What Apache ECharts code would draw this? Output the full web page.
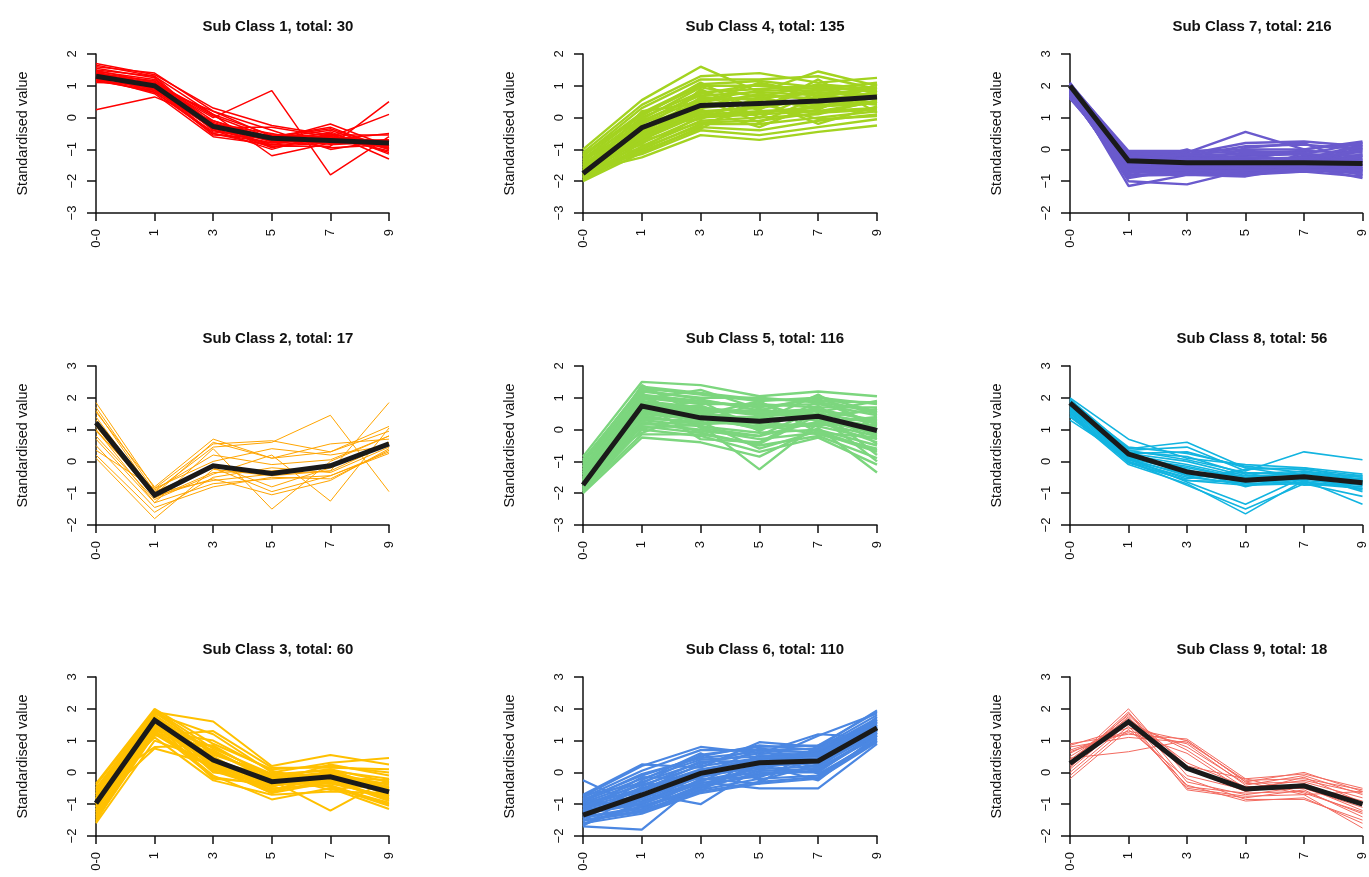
<!DOCTYPE html>
<html>
<head>
<meta charset="utf-8">
<script src="https://cdn.jsdelivr.net/npm/echarts@6/dist/echarts.min.js"></script>
<style>
html,body{margin:0;padding:0;background:#fff;}
#chart{width:1369px;height:877px;}
</style>
</head>
<body>
<div id="chart"></div>
<script>
const categories = ['0-0', '1', '3', '5', '7', '9'];
const classTotals = [30, 17, 60, 135, 116, 110, 216, 56, 18];
const classColors = ['#FF0000', '#FFA500', '#FFC000', '#A3D320', '#7CD67E', '#4B87E2', '#6A5ACD', '#12B4E0', '#F36A5F'];
const yMins = [-3, -2, -2, -3, -3, -2, -2, -2, -2];
const yMaxs = [2, 3, 3, 2, 2, 3, 3, 3, 3];

const class1Lines = [
  [1.70, 1.35, 0.30, -0.25, -0.55, -0.55],
  [1.60, 1.40, 0.20, -0.60, -0.30, -1.00],
  [1.50, 1.30, -0.30, -0.30, -0.60, 0.10],
  [1.45, 1.20, -0.20, -0.90, -0.90, 0.50],
  [1.40, 1.15, -0.10, -0.70, -0.20, -0.90],
  [1.35, 1.10, 0.10, -1.20, -0.80, -0.70],
  [1.30, 1.05, -0.40, -1.00, -0.50, -1.30],
  [1.25, 0.95, -0.50, -0.80, -0.70, -0.80],
  [1.20, 0.90, -0.55, -0.65, -0.40, -1.00],
  [1.15, 0.85, -0.30, -0.75, -0.75, -0.85],
  [1.10, 1.05, 0.00, 0.85, -1.80, -0.60],
  [1.35, 0.80, -0.45, -0.55, -0.65, -0.90],
  [1.25, 0.75, -0.60, -0.85, -0.55, -1.10],
  [1.40, 1.00, -0.20, -0.50, -0.85, -0.75],
  [1.55, 1.25, -0.35, -0.60, -0.35, -0.95],
  [1.30, 0.95, 0.20, -0.40, -1.00, -0.70],
  [1.20, 1.10, -0.25, -0.95, -0.60, -1.05],
  [1.45, 0.90, -0.15, -0.70, -0.70, -0.50],
  [0.25, 0.65, -0.10, -0.65, -0.95, -0.85],
  [1.35, 1.15, -0.40, -0.80, -0.45, -1.15],
  [1.65, 1.30, 0.10, -0.55, -0.60, -0.75],
  [1.28, 1.00, -0.20, -0.75, -0.65, -0.95],
  [1.18, 0.80, -0.50, -0.90, -0.80, -0.85],
  [1.48, 1.10, 0.05, -0.65, -0.50, -1.00],
  [1.38, 0.85, -0.35, -0.85, -0.75, -0.70]
];
const class1Mean = [1.30, 1.00, -0.28, -0.65, -0.72, -0.80];

const class2Lines = [
  [1.85, -0.85, 0.55, 0.65, 0.30, 0.95],
  [1.70, -0.95, 0.45, 0.60, 1.45, -0.95],
  [1.60, -1.05, 0.60, 0.10, 0.30, 1.10],
  [1.00, -1.30, 0.40, -1.50, 0.00, 0.80],
  [0.80, -1.20, -0.40, 0.20, -1.25, 1.05],
  [1.40, -1.10, -0.55, -1.05, -0.60, 0.40],
  [1.30, -0.95, -0.20, -0.95, -0.45, 0.30],
  [1.20, -1.00, -0.60, -0.40, -0.30, 0.55],
  [1.10, -1.15, -0.35, -0.30, -0.15, 0.60],
  [0.95, -0.90, 0.20, -0.10, 0.05, 0.80],
  [0.70, -1.30, -0.70, -0.55, -0.45, 0.25],
  [0.50, -1.45, -0.80, -0.50, -0.55, 0.35],
  [0.35, -0.85, 0.00, 0.40, 0.20, 0.50],
  [0.20, -1.60, -0.50, -0.20, -0.35, 0.45],
  [0.10, -1.80, -0.25, -0.45, -0.30, 1.85],
  [1.55, -0.80, 0.70, 0.10, 0.55, 0.70],
  [1.00, -1.05, -0.10, -0.80, -0.20, 0.60]
];
const class2Mean = [1.22, -1.06, -0.14, -0.38, -0.14, 0.55];

const class3Lines = [
  [-0.35, 2.00, 0.90, 0.10, 0.20, 0.00],
  [-0.50, 1.90, 1.60, 0.20, 0.55, 0.25],
  [-0.60, 1.85, 1.20, 0.00, 0.30, 0.45],
  [-0.70, 1.80, 0.60, -0.10, 0.10, -0.30],
  [-0.80, 1.75, 0.40, -0.30, -0.10, -0.50],
  [-0.85, 1.70, 0.20, -0.40, -0.30, -0.80],
  [-0.90, 1.65, 0.00, -0.20, -0.20, -0.60],
  [-1.00, 1.60, 0.50, -0.50, -0.40, -1.00],
  [-1.05, 1.55, -0.20, -0.35, -0.05, -0.70],
  [-1.10, 1.50, 0.30, -0.60, -0.25, -0.90],
  [-1.15, 1.45, 0.80, -0.15, 0.00, -0.40],
  [-1.20, 1.40, -0.10, -0.85, -0.50, -1.15],
  [-1.30, 1.35, 0.70, -0.25, -1.20, -0.20],
  [-1.40, 1.30, 1.00, 0.05, -0.35, -0.55],
  [-1.50, 1.20, 0.10, -0.45, 0.05, -0.75],
  [-1.60, 1.00, 0.35, -0.55, -0.15, -0.35],
  [-0.45, 0.80, 0.85, -0.20, -0.45, -0.95],
  [-0.65, 1.10, -0.25, -0.70, -0.60, -0.65],
  [-0.95, 0.75, 0.25, -0.30, 0.25, -0.10],
  [-1.25, 1.95, 0.55, -0.05, -0.20, -0.85],
  [-0.75, 1.25, 0.15, -0.65, -0.30, -0.45],
  [-1.00, 1.15, 1.30, 0.15, 0.15, 0.10],
  [-0.40, 1.95, 0.75, -0.05, 0.05, -0.20],
  [-0.55, 1.88, 0.65, -0.25, -0.05, -0.45],
  [-0.68, 1.78, 0.45, -0.45, 0.05, -0.65],
  [-0.82, 1.72, 0.30, -0.05, -0.15, -0.25],
  [-0.92, 1.62, 0.15, -0.35, -0.35, -0.75],
  [-1.08, 1.52, 0.05, -0.55, -0.10, -0.50],
  [-1.18, 1.42, 0.40, -0.20, -0.45, -1.05],
  [-1.35, 1.32, -0.15, -0.40, -0.25, -0.85],
  [-1.45, 1.25, 0.60, -0.10, -0.55, -0.30],
  [-1.55, 1.60, 0.20, -0.65, 0.10, -0.60]
];
const class3Mean = [-0.97, 1.64, 0.39, -0.29, -0.14, -0.61];

const class4Lines = [
  [-1.00, 0.55, 1.60, 0.80, 1.45, 1.00],
  [-1.10, 0.40, 1.30, 1.40, 1.10, 1.25],
  [-1.20, 0.30, 1.20, 1.20, 1.30, 0.90],
  [-1.30, 0.10, 1.00, 1.00, 0.90, 1.10],
  [-1.40, 0.00, 0.80, 0.90, 1.00, 0.80],
  [-1.50, -0.10, 0.70, 0.80, 0.70, 0.95],
  [-1.55, -0.20, 0.60, 0.60, 0.80, 0.70],
  [-1.60, -0.30, 0.50, 0.70, 0.60, 0.60],
  [-1.65, -0.40, 0.40, 0.40, 0.50, 0.75],
  [-1.70, -0.50, 0.30, 0.50, 0.40, 0.50],
  [-1.75, -0.60, 0.20, 0.30, 0.60, 0.40],
  [-1.80, -0.70, 0.10, 0.20, 0.30, 0.85],
  [-1.85, -0.80, 0.00, 0.10, 0.20, 0.30],
  [-1.90, -0.90, -0.10, 0.00, 0.10, 0.55],
  [-1.95, -1.00, -0.20, -0.20, 0.00, 0.20],
  [-2.00, -1.10, -0.30, -0.40, -0.10, 0.10],
  [-1.70, -1.25, -0.55, -0.70, -0.45, -0.25],
  [-1.60, -1.15, -0.40, -0.55, -0.30, -0.05],
  [-1.45, -0.85, 0.90, 0.00, 0.80, 0.65],
  [-1.35, -0.25, -0.05, 0.65, 0.25, 1.05],
  [-1.80, 0.20, 0.45, 1.10, 0.75, 0.45],
  [-1.90, -0.35, 0.85, 0.25, 1.20, 0.15],
  [-1.25, -0.60, 0.25, -0.30, 0.45, 0.70],
  [-1.65, -0.75, 0.65, 0.55, -0.20, 0.35],
  [-1.22, 0.15, 1.05, 1.15, 0.95, 0.85],
  [-1.33, -0.05, 0.95, 0.65, 1.05, 0.90],
  [-1.48, -0.15, 0.75, 1.05, 0.65, 0.65],
  [-1.58, -0.45, 0.55, 0.85, 0.85, 0.95],
  [-1.72, -0.55, 0.35, 0.75, 0.55, 0.80],
  [-1.78, -0.65, 0.15, 0.35, 0.90, 0.60],
  [-1.88, -0.95, 0.05, 0.15, 0.35, 0.45],
  [-1.97, -0.75, -0.15, -0.10, 0.15, 0.25],
  [-1.52, -0.95, -0.25, 0.45, -0.05, 0.05],
  [-1.42, -0.50, 0.60, -0.15, 0.65, 0.90],
  [-1.83, -1.05, -0.35, 0.60, 0.30, 0.75],
  [-1.15, 0.05, 1.10, 0.20, 0.20, 0.50]
];
const class4Mean = [-1.76, -0.32, 0.38, 0.44, 0.52, 0.65];

const class5Lines = [
  [-0.85, 1.50, 1.40, 1.05, 1.20, 1.05],
  [-0.95, 1.30, 1.10, 0.90, 1.00, 0.80],
  [-1.05, 1.20, 1.00, 1.00, 0.85, 0.60],
  [-1.15, 1.10, 0.90, 0.70, 0.95, 0.50],
  [-1.25, 1.00, 0.80, 0.80, 0.70, 0.70],
  [-1.35, 0.90, 0.70, 0.50, 0.60, 0.30],
  [-1.45, 0.80, 0.60, 0.60, 0.50, 0.20],
  [-1.55, 0.70, 0.50, 0.30, 0.40, 0.10],
  [-1.60, 0.60, 0.40, 0.40, 0.30, -0.10],
  [-1.65, 0.50, 0.30, 0.10, 0.20, -0.20],
  [-1.70, 0.40, 0.20, 0.20, 0.10, -0.30],
  [-1.75, 0.30, 0.10, -0.10, 0.00, -0.50],
  [-1.80, 0.20, 0.00, -0.30, -0.10, -0.70],
  [-1.85, 0.10, -0.10, -0.50, -0.20, -0.90],
  [-1.90, 0.00, -0.20, -0.70, -0.25, -1.10],
  [-2.00, -0.25, -0.40, -0.85, 0.05, -1.35],
  [-1.20, 0.05, 0.15, -1.25, 0.20, 0.40],
  [-1.40, 1.40, 0.45, 0.00, 0.75, -0.45],
  [-1.60, 0.95, 1.25, 0.65, 0.35, 0.65],
  [-1.30, -0.10, 0.55, 0.25, 1.10, 0.00],
  [-1.95, 0.85, -0.30, -0.40, 0.55, 0.90],
  [-1.50, 0.65, 0.75, 0.15, -0.15, -0.60],
  [-1.10, 0.35, 0.25, 0.85, 0.25, 0.35],
  [-1.70, 1.15, 0.05, -0.20, 0.65, -0.80],
  [-1.00, 1.35, 1.15, 0.95, 0.90, 0.85],
  [-1.18, 1.25, 0.95, 0.60, 1.05, 0.55],
  [-1.28, 1.05, 0.85, 0.75, 0.80, 0.45],
  [-1.42, 0.85, 0.65, 0.45, 0.45, 0.60],
  [-1.52, 0.75, 0.55, 0.55, 0.65, 0.25],
  [-1.63, 0.55, 0.35, 0.05, 0.15, 0.15],
  [-1.72, 0.45, 0.15, 0.35, 0.35, -0.15],
  [-1.82, 0.25, -0.05, -0.20, 0.25, -0.40],
  [-1.88, 0.15, 0.25, -0.60, -0.05, -0.65],
  [-1.93, -0.15, -0.15, -0.45, 0.45, -1.00],
  [-1.35, 0.60, 0.90, -0.05, 0.90, 0.15],
  [-1.58, 1.00, 0.45, 0.90, -0.10, -0.25]
];
const class5Mean = [-1.74, 0.74, 0.37, 0.26, 0.42, -0.03];

const class6Lines = [
  [-0.25, -1.10, -0.50, 0.20, 0.30, 1.30],
  [-0.70, 0.25, 0.15, 0.95, 0.80, 1.95],
  [-0.75, 0.20, 0.80, 0.60, 1.20, 1.10],
  [-0.80, 0.05, 0.70, 0.70, 0.75, 1.80],
  [-0.85, -0.10, 0.50, 0.85, 0.70, 1.70],
  [-0.90, -0.20, 0.40, 0.50, 0.60, 1.60],
  [-0.95, -0.30, 0.30, 0.60, 0.55, 1.55],
  [-1.00, -0.40, 0.20, 0.45, 0.50, 1.50],
  [-1.05, -0.50, 0.10, 0.40, 0.45, 1.45],
  [-1.10, -0.60, 0.05, 0.30, 0.40, 1.40],
  [-1.15, -0.70, -0.05, 0.25, 0.35, 1.35],
  [-1.20, -0.80, -0.15, 0.20, 0.30, 1.30],
  [-1.25, -0.90, -0.25, 0.10, 0.20, 1.25],
  [-1.30, -1.00, -0.35, 0.05, 0.10, 1.20],
  [-1.40, -1.10, -0.45, -0.05, 0.05, 1.15],
  [-1.50, -1.20, -0.55, -0.20, -0.10, 1.05],
  [-1.60, -1.30, -0.65, -0.35, -0.20, 0.95],
  [-1.70, -1.80, -0.30, -0.50, -0.50, 0.90],
  [-1.35, -0.65, -1.00, 0.15, 0.65, 1.20],
  [-1.55, -0.25, 0.60, -0.25, 0.25, 1.75],
  [-1.65, -0.95, -0.10, 0.75, -0.05, 1.00],
  [-1.45, -0.45, 0.35, 0.35, 1.15, 1.85],
  [-0.95, -1.05, -0.60, 0.55, 0.15, 1.45],
  [-1.20, -0.15, -0.20, -0.15, 0.45, 1.65],
  [-0.72, -0.35, 0.55, 0.80, 0.85, 1.90],
  [-0.88, -0.05, 0.45, 0.65, 0.65, 1.65],
  [-1.02, -0.55, 0.25, 0.75, 0.60, 1.50],
  [-1.12, -0.75, 0.00, 0.35, 0.70, 1.55],
  [-1.22, -0.85, -0.10, 0.15, 0.40, 1.35],
  [-1.32, -0.95, -0.30, 0.55, 0.25, 1.25],
  [-1.42, -1.15, -0.40, -0.10, 0.15, 1.10],
  [-1.52, -1.25, -0.60, -0.30, -0.15, 1.00],
  [-1.62, -1.05, -0.50, 0.00, 0.00, 1.25],
  [-1.68, -0.55, 0.05, 0.45, 0.55, 1.60],
  [-0.80, -1.20, -0.20, -0.35, 0.85, 1.45],
  [-1.10, -0.35, -0.45, 0.25, -0.25, 1.15]
];
const class6Mean = [-1.34, -0.71, -0.03, 0.30, 0.36, 1.40];

const class7Lines = [
  [2.05, -0.05, -0.05, 0.00, 0.00, 0.25],
  [2.00, -0.10, -0.10, 0.55, 0.00, 0.20],
  [1.95, -0.15, -0.15, 0.20, 0.25, 0.10],
  [1.90, -0.20, -0.20, 0.10, 0.15, 0.00],
  [1.85, -0.25, -0.25, -0.10, -0.05, -0.10],
  [1.80, -0.30, -0.30, -0.20, -0.15, -0.20],
  [1.75, -0.35, -0.35, -0.30, -0.25, -0.30],
  [1.70, -0.40, -0.40, -0.35, -0.35, -0.40],
  [1.65, -0.45, -0.45, -0.40, -0.40, -0.45],
  [1.60, -0.50, -0.50, -0.45, -0.45, -0.55],
  [2.10, -0.55, -0.55, -0.50, -0.50, -0.60],
  [2.00, -0.60, -0.60, -0.55, -0.55, -0.65],
  [1.90, -0.65, -0.65, -0.60, -0.60, -0.70],
  [1.80, -0.70, -0.70, -0.70, -0.65, -0.75],
  [1.70, -0.80, -0.75, -0.80, -0.70, -0.85],
  [1.95, -1.15, -0.80, -0.85, -0.55, -0.90],
  [1.85, -1.00, -1.10, -0.65, -0.50, -0.80],
  [1.75, -0.90, -0.60, 0.05, 0.20, -0.50],
  [2.05, -0.85, -0.20, -0.25, -0.30, 0.15],
  [1.65, -0.15, -0.45, -0.60, -0.20, -0.35],
  [1.90, -0.45, 0.00, -0.75, -0.10, -0.60],
  [1.80, -0.30, -0.70, -0.15, -0.40, 0.05],
  [2.08, -0.12, -0.20, -0.15, -0.15, 0.20],
  [2.02, -0.22, -0.30, -0.25, -0.30, 0.10],
  [1.98, -0.32, -0.40, -0.35, -0.40, -0.05],
  [1.92, -0.42, -0.45, -0.50, -0.45, -0.15],
  [1.88, -0.52, -0.55, -0.60, -0.55, -0.25],
  [1.82, -0.62, -0.65, -0.70, -0.60, -0.35],
  [1.78, -0.72, -0.75, -0.75, -0.70, -0.50],
  [1.72, -0.82, -0.80, -0.65, -0.65, -0.65],
  [1.68, -0.35, -0.15, -0.05, -0.10, -0.70],
  [1.62, -0.55, -0.25, -0.45, -0.25, -0.80],
  [1.87, -0.75, -0.35, -0.55, -0.35, 0.00],
  [1.97, -0.25, -0.60, -0.80, -0.50, -0.20]
];
const class7Mean = [2.00, -0.36, -0.42, -0.42, -0.42, -0.44];

const class8Lines = [
  [2.00, 0.70, 0.10, -0.10, -0.20, -0.40],
  [1.95, 0.40, 0.60, -0.20, -0.25, -0.45],
  [1.90, 0.35, 0.45, -0.30, 0.30, 0.05],
  [1.85, 0.30, 0.15, -0.40, -0.30, -0.50],
  [1.80, 0.25, 0.00, -0.45, -0.40, -0.55],
  [1.75, 0.20, -0.10, -0.50, -0.45, -0.60],
  [1.70, 0.15, -0.20, -0.55, -0.50, -0.65],
  [1.65, 0.10, -0.30, -0.60, -0.55, -0.70],
  [1.60, 0.05, -0.40, -0.65, -0.60, -0.75],
  [1.55, 0.00, -0.50, -0.70, -0.65, -0.80],
  [1.50, -0.05, -0.60, -0.75, -0.70, -0.85],
  [1.45, -0.10, -0.70, -1.65, -0.60, -1.35],
  [1.40, 0.00, -0.75, -1.50, -0.70, -1.10],
  [1.30, 0.10, -0.65, -1.35, -0.50, -0.90],
  [1.85, 0.45, 0.25, -0.15, -0.35, -0.50],
  [1.60, 0.30, -0.45, -0.35, -0.75, -0.70],
  [1.95, 0.20, -0.25, -0.80, -0.40, -0.95],
  [1.70, 0.05, -0.55, -0.25, -0.20, -0.60],
  [1.88, 0.35, 0.05, -0.35, -0.40, -0.45],
  [1.78, 0.12, -0.15, -0.55, -0.30, -0.65],
  [1.62, 0.22, -0.35, -0.45, -0.55, -0.55],
  [1.52, -0.02, -0.60, -0.65, -0.45, -0.75],
  [1.42, 0.08, -0.45, -0.75, -0.65, -0.85],
  [1.92, 0.25, 0.30, -0.20, -0.50, -0.60]
];
const class8Mean = [1.84, 0.23, -0.33, -0.59, -0.48, -0.67];

const class9Lines = [
  [0.90, 1.20, 1.05, -0.20, -0.05, -0.50],
  [0.85, 1.40, 1.00, -0.30, 0.00, -0.60],
  [0.80, 1.10, 0.95, -0.25, -0.20, -0.55],
  [0.70, 1.30, 0.90, -0.40, -0.10, -0.70],
  [0.60, 1.50, 0.80, -0.35, -0.30, -0.80],
  [0.50, 1.60, 0.70, -0.50, -0.25, -0.65],
  [0.40, 1.70, 0.30, -0.45, -0.40, -0.90],
  [0.35, 1.80, 0.10, -0.60, -0.35, -1.00],
  [0.30, 2.00, -0.10, -0.55, -0.50, -1.10],
  [0.25, 1.90, -0.30, -0.70, -0.45, -1.20],
  [0.20, 1.75, -0.45, -0.65, -0.60, -1.30],
  [0.10, 1.65, -0.55, -0.80, -0.55, -1.40],
  [0.00, 1.55, -0.50, -0.75, -0.70, -1.75],
  [-0.10, 1.45, -0.40, -0.90, -0.80, -1.60],
  [-0.20, 1.35, -0.20, -0.85, -0.85, -1.50],
  [0.45, 0.65, 1.00, -0.30, -0.70, -0.60],
  [0.65, 1.25, 0.60, -0.60, -0.15, -0.95],
  [0.15, 1.85, 0.20, -0.20, -0.65, -1.25]
];
const class9Mean = [0.28, 1.59, 0.13, -0.52, -0.42, -1.00];

const allLines = [class1Lines, class2Lines, class3Lines, class4Lines, class5Lines, class6Lines, class7Lines, class8Lines, class9Lines];
const allMeans = [class1Mean, class2Mean, class3Mean, class4Mean, class5Mean, class6Mean, class7Mean, class8Mean, class9Mean];

// layout (style only)
const colLefts = [96, 583, 1070];
const colWidths = [293, 294, 294];
const rowTops = [54, 366, 677];
const plotH = 159;
const lineWidths = [1.5, 1, 2.0, 2.4, 2.4, 2.2, 2.4, 1.6, 1];
const FONT = '"Liberation Sans", Arial, Helvetica, sans-serif';
const minus = v => String(v).replace('-', '\u2212');

const grids = [], xAxes = [], yAxes = [], series = [], titles = [];
for (let k = 0; k < 9; k++) {
  const col = Math.floor(k / 3), row = k % 3;
  grids.push({ left: colLefts[col], top: rowTops[row], width: colWidths[col], height: plotH, containLabel: false });
  titles.push({
    text: 'Sub Class ' + (k + 1) + ', total: ' + classTotals[k],
    left: colLefts[col] + 177, top: rowTops[row] - 40, textAlign: 'center',
    textStyle: { fontFamily: FONT, fontSize: 15, fontWeight: 'bold', color: '#111' }
  });
  xAxes.push({
    type: 'category', gridIndex: k, data: categories, boundaryGap: false,
    axisLine: { onZero: false, lineStyle: { color: '#111', width: 1.5 } },
    axisTick: { length: 8, lineStyle: { color: '#111', width: 1.5 }, alignWithLabel: true },
    axisLabel: { rotate: 90, margin: 16, color: '#111', fontFamily: FONT, fontSize: 13, interval: 0 },
    splitLine: { show: false }
  });
  yAxes.push({
    type: 'value', gridIndex: k, min: yMins[k], max: yMaxs[k], interval: 1,
    name: 'Standardised value', nameLocation: 'middle', nameGap: 66, nameRotate: 90,
    nameTextStyle: { fontFamily: FONT, fontSize: 14.5, color: '#111' },
    axisLine: { show: true, onZero: false, lineStyle: { color: '#111', width: 1.5 } },
    axisTick: { show: true, length: 9, lineStyle: { color: '#111', width: 1.5 } },
    axisLabel: { rotate: 90, margin: 17, color: '#111', fontFamily: FONT, fontSize: 13, formatter: minus },
    splitLine: { show: false }
  });
  allLines[k].forEach((vals) => {
    series.push({
      type: 'line', xAxisIndex: k, yAxisIndex: k, data: vals, showSymbol: false, symbol: 'none',
      silent: true, animation: false, z: 2,
      lineStyle: { color: classColors[k], width: lineWidths[k] }
    });
  });
  series.push({
    type: 'line', xAxisIndex: k, yAxisIndex: k, data: allMeans[k], showSymbol: false, symbol: 'none',
    silent: true, animation: false, z: 5,
    lineStyle: { color: '#1a1a1a', width: 5, cap: 'butt', join: 'miter' }
  });
}

const chart = echarts.init(document.getElementById('chart'), null, { renderer: 'canvas' });
chart.setOption({
  backgroundColor: '#ffffff',
  animation: false,
  title: titles,
  grid: grids,
  xAxis: xAxes,
  yAxis: yAxes,
  series: series
});
</script>
</body>
</html>
